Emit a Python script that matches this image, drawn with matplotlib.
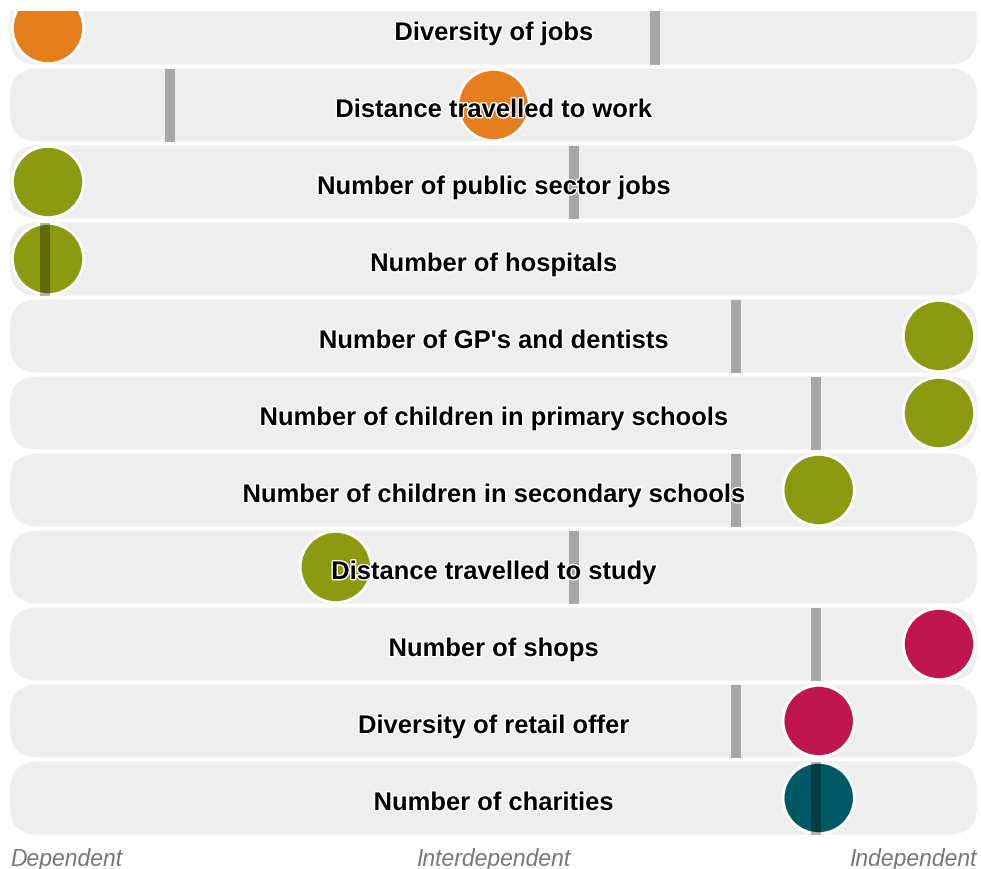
import matplotlib
matplotlib.use("Agg")
import matplotlib.pyplot as plt
import matplotlib.patheffects as pe
from matplotlib.patches import FancyBboxPatch

# Data: position of each indicator on the Dependent (0) .. Independent (100) scale
labels = [
    "Diversity of jobs",
    "Distance travelled to work",
    "Number of public sector jobs",
    "Number of hospitals",
    "Number of GP's and dentists",
    "Number of children in primary schools",
    "Number of children in secondary schools",
    "Distance travelled to study",
    "Number of shops",
    "Diversity of retail offer",
    "Number of charities",
]
scores = [0, 50, 0, 0, 100, 100, 86.5, 32.3, 100, 86.5, 86.5]
benchmarks = [68.1, 13.7, 59.0, -0.3, 77.2, 86.2, 77.2, 59.0, 86.2, 77.2, 86.2]
groups = ["economy", "economy", "services", "services", "services", "services",
          "services", "services", "retail", "retail", "community"]
scale_labels = ["Dependent", "Interdependent", "Independent"]

group_colors = {
    "economy": "#e67e1e",
    "services": "#8b9a10",
    "retail": "#c0164f",
    "community": "#005864",
}

W, H, DPI = 981, 870, 100
fig = plt.figure(figsize=(W / DPI, H / DPI), dpi=DPI)
top_px = 12
ax = fig.add_axes([0, 0, 1, 1 - top_px / H])
ax.axis("off")

# scale: value 0 -> px 48, value 100 -> px 939 ; row i -> px 29 + 77*i
px_x = (939 - 48) / 100.0
px_y = 77.0
ax.set_xlim(-48 / px_x, (W - 48) / px_x)
ax.set_ylim((H - 29) / px_y, (top_px - 29) / px_y)

bar_left, bar_right = (10 - 48) / px_x, (977 - 48) / px_x
bar_h = 73 / px_y
radius = 28 / px_x

for i, lab in enumerate(labels):
    box = FancyBboxPatch((bar_left, i - bar_h / 2), bar_right - bar_left, bar_h,
                         boxstyle=f"round,pad=0,rounding_size={radius}",
                         mutation_aspect=px_x / px_y,
                         fc="#eeeeee", ec="none", zorder=1)
    ax.add_patch(box)

rows = list(range(len(labels)))
colors = [group_colors[g] for g in groups]

# faint shadow ring then circle with white edge
ax.scatter(scores, rows, s=2850, c="#dedede", edgecolors="none", zorder=2)
ax.scatter(scores, rows, s=2650, c=colors, edgecolors="white", linewidths=2.2, zorder=3)

ax.vlines(benchmarks, [r - bar_h / 2 for r in rows], [r + bar_h / 2 for r in rows],
          colors="black", alpha=0.3, linewidth=7.2, zorder=4)

for i, lab in enumerate(labels):
    ax.text(50, i + 12 / px_y, lab, ha="center", va="baseline", fontsize=18.4,
            fontweight="bold", family="Liberation Sans", color="black", zorder=5,
            path_effects=[pe.withStroke(linewidth=2, foreground="white")])

label_y = (866 - 29) / px_y
ax.text(bar_left, label_y, scale_labels[0], ha="left", va="baseline", fontsize=16.5,
        style="italic", family="Liberation Sans", color="#777777")
ax.text(50, label_y, scale_labels[1], ha="center", va="baseline", fontsize=16.5,
        style="italic", family="Liberation Sans", color="#777777")
ax.text(bar_right, label_y, scale_labels[2], ha="right", va="baseline", fontsize=16.5,
        style="italic", family="Liberation Sans", color="#777777")

fig.savefig("out.png", dpi=DPI)
